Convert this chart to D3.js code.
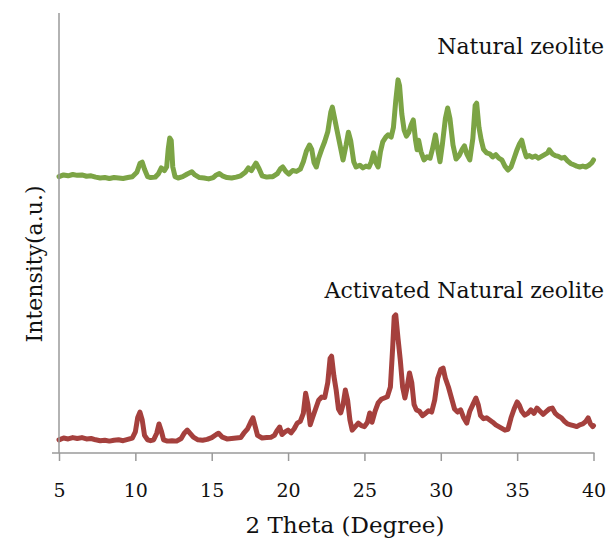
<!DOCTYPE html>
<html>
<head>
<meta charset="utf-8">
<script src="https://cdn.jsdelivr.net/npm/d3@7"></script>
<style>
  html, body { margin: 0; padding: 0; background: #fff; }
  svg { display: block; font-family: "DejaVu Serif", serif; }
</style>
</head>
<body>
<div id="chart"></div>
<script>
// XRD patterns: natural vs activated natural zeolite.
const xTicks = [5, 10, 15, 20, 25, 30, 35, 40];
const seriesNames = ["Natural zeolite", "Activated Natural zeolite"];

// [2theta, intensity a.u.]
const naturalZeolite = [
  [5.0, 38], [5.3, 42], [5.6, 40], [5.9, 43], [6.2, 41], [6.5, 42], [6.8, 39], [7.1, 40],
  [7.4, 37], [7.7, 35], [8.0, 36], [8.3, 34], [8.6, 36], [8.9, 35], [9.2, 34], [9.5, 36],
  [9.8, 38], [10.1, 48], [10.3, 68], [10.45, 71], [10.6, 55], [10.8, 38], [11.0, 36], [11.3, 37],
  [11.5, 44], [11.7, 58], [11.9, 52], [12.05, 60], [12.15, 100], [12.25, 126], [12.35, 120], [12.45, 60],
  [12.6, 38], [12.8, 35], [13.1, 38], [13.4, 44], [13.7, 49], [13.9, 42], [14.2, 36], [14.5, 35],
  [14.8, 33], [15.1, 36], [15.3, 42], [15.5, 45], [15.7, 40], [16.0, 36], [16.3, 35], [16.6, 37],
  [16.9, 40], [17.2, 48], [17.4, 58], [17.6, 52], [17.9, 69], [18.1, 56], [18.3, 40], [18.6, 37],
  [18.8, 38], [19.0, 38], [19.3, 45], [19.5, 56], [19.65, 60], [19.85, 50], [20.05, 44], [20.3, 52],
  [20.55, 50], [20.8, 55], [21.0, 72], [21.2, 96], [21.4, 110], [21.55, 100], [21.7, 70], [21.85, 60],
  [22.0, 80], [22.2, 100], [22.4, 118], [22.6, 140], [22.8, 185], [22.9, 196], [23.05, 170], [23.2, 144],
  [23.4, 110], [23.6, 76], [23.8, 110], [23.95, 139], [24.1, 120], [24.3, 72], [24.45, 60], [24.7, 64],
  [24.9, 58], [25.1, 62], [25.3, 60], [25.45, 72], [25.6, 92], [25.75, 70], [25.9, 60], [26.05, 95],
  [26.2, 117], [26.4, 128], [26.55, 133], [26.75, 128], [26.9, 150], [27.05, 210], [27.2, 258], [27.3, 245],
  [27.45, 180], [27.6, 144], [27.75, 130], [27.9, 138], [28.05, 155], [28.2, 167], [28.35, 120], [28.45, 99],
  [28.55, 121], [28.7, 95], [28.9, 76], [29.1, 83], [29.3, 80], [29.45, 100], [29.65, 133], [29.8, 100],
  [29.95, 72], [30.1, 110], [30.3, 170], [30.45, 194], [30.6, 170], [30.8, 110], [31.0, 78], [31.2, 86],
  [31.4, 100], [31.55, 108], [31.7, 90], [31.9, 76], [32.1, 125], [32.25, 200], [32.35, 205], [32.5, 150],
  [32.65, 121], [32.8, 100], [33.0, 92], [33.2, 90], [33.4, 83], [33.6, 88], [33.8, 80], [34.0, 76],
  [34.2, 62], [34.4, 53], [34.6, 60], [34.8, 80], [35.0, 100], [35.15, 112], [35.3, 121], [35.45, 100],
  [35.6, 83], [35.8, 86], [36.0, 82], [36.2, 85], [36.4, 80], [36.6, 84], [36.8, 88], [37.0, 92],
  [37.1, 99], [37.3, 90], [37.5, 86], [37.7, 84], [37.9, 80], [38.1, 82], [38.3, 74], [38.5, 68],
  [38.7, 65], [38.9, 62], [39.1, 60], [39.3, 62], [39.5, 60], [39.7, 64], [39.9, 70], [40.0, 76]
];

const activatedZeolite = [
  [5.0, 30], [5.3, 34], [5.6, 32], [5.9, 35], [6.2, 33], [6.5, 35], [6.8, 32], [7.1, 33],
  [7.4, 30], [7.7, 28], [8.0, 29], [8.3, 27], [8.6, 29], [8.9, 30], [9.2, 28], [9.5, 31],
  [9.8, 34], [10.0, 48], [10.15, 80], [10.3, 93], [10.45, 75], [10.6, 40], [10.8, 30], [11.0, 28],
  [11.2, 30], [11.4, 45], [11.55, 66], [11.7, 50], [11.85, 30], [12.1, 27], [12.4, 28], [12.7, 27],
  [13.0, 33], [13.2, 45], [13.4, 52], [13.6, 44], [13.8, 36], [14.1, 30], [14.4, 29], [14.7, 31],
  [15.0, 35], [15.3, 42], [15.45, 45], [15.7, 36], [16.0, 32], [16.3, 33], [16.6, 34], [16.9, 35],
  [17.1, 45], [17.35, 55], [17.55, 70], [17.7, 80], [17.85, 60], [18.0, 40], [18.3, 34], [18.6, 35],
  [18.9, 36], [19.1, 40], [19.3, 52], [19.45, 59], [19.6, 42], [19.8, 48], [20.0, 52], [20.2, 46],
  [20.4, 55], [20.6, 68], [20.8, 72], [21.0, 90], [21.15, 136], [21.3, 110], [21.45, 64], [21.6, 80],
  [21.8, 100], [22.0, 120], [22.2, 127], [22.4, 126], [22.6, 160], [22.75, 215], [22.85, 220], [23.0, 175],
  [23.15, 143], [23.3, 100], [23.45, 91], [23.6, 110], [23.75, 143], [23.9, 120], [24.05, 75], [24.2, 52],
  [24.4, 60], [24.6, 68], [24.8, 62], [25.0, 60], [25.2, 70], [25.35, 91], [25.5, 70], [25.7, 95],
  [25.9, 114], [26.1, 122], [26.3, 125], [26.5, 128], [26.7, 150], [26.85, 240], [26.95, 310], [27.05, 314],
  [27.2, 260], [27.35, 211], [27.5, 150], [27.65, 125], [27.8, 150], [27.95, 182], [28.1, 160], [28.25, 110],
  [28.4, 98], [28.6, 95], [28.8, 85], [29.0, 90], [29.2, 96], [29.4, 93], [29.6, 120], [29.8, 170],
  [30.0, 190], [30.15, 193], [30.3, 170], [30.5, 150], [30.7, 125], [30.9, 100], [31.1, 93], [31.3, 98],
  [31.5, 80], [31.7, 68], [31.9, 95], [32.1, 110], [32.3, 125], [32.45, 110], [32.6, 85], [32.8, 78],
  [33.0, 80], [33.2, 75], [33.4, 70], [33.6, 64], [33.8, 60], [34.0, 56], [34.2, 52], [34.4, 54],
  [34.6, 80], [34.8, 100], [35.0, 116], [35.15, 108], [35.3, 95], [35.5, 86], [35.7, 90], [35.9, 98],
  [36.1, 90], [36.3, 102], [36.5, 95], [36.7, 88], [36.9, 94], [37.1, 100], [37.3, 102], [37.5, 90],
  [37.7, 84], [37.9, 80], [38.1, 72], [38.3, 66], [38.5, 64], [38.7, 62], [38.9, 60], [39.1, 64],
  [39.3, 66], [39.5, 72], [39.65, 80], [39.8, 66], [39.95, 60], [40.0, 62]
];

const stackOffset = 590; // vertical shift of the natural pattern

const width = 607, height = 548;
const margin = { top: 13, right: 13, bottom: 95, left: 59 };

const svg = d3.select("#chart").append("svg")
  .attr("width", width).attr("height", height);

const x = d3.scaleLinear().domain([5, 40]).range([margin.left, width - margin.right - 0.5]);
const y = d3.scaleLinear().domain([0, 1000]).range([height - margin.bottom, margin.top]);

const defs = svg.append("defs");
defs.append("filter").attr("id", "soft")
  .append("feGaussianBlur").attr("stdDeviation", 0.55);

const line = d3.line().x(d => x(d[0])).y(d => y(d[1]));

// curves
svg.append("path").datum(activatedZeolite)
  .attr("fill", "none").attr("stroke", "#a5413e").attr("stroke-width", 5)
  .attr("stroke-linejoin", "round").attr("stroke-linecap", "round")
  .attr("filter", "url(#soft)").attr("d", line);

svg.append("path").datum(naturalZeolite.map(d => [d[0], d[1] + stackOffset]))
  .attr("fill", "none").attr("stroke", "#7ba445").attr("stroke-width", 5)
  .attr("stroke-linejoin", "round").attr("stroke-linecap", "round")
  .attr("filter", "url(#soft)").attr("d", line);

// axes
const axisColor = "#9a9a9a";
svg.append("line")
  .attr("x1", x(5)).attr("x2", x(5))
  .attr("y1", y(1000)).attr("y2", y(0))
  .attr("stroke", axisColor).attr("stroke-width", 1.5);
svg.append("line")
  .attr("x1", x(5) - 7).attr("x2", x(40) + 1)
  .attr("y1", y(0)).attr("y2", y(0))
  .attr("stroke", axisColor).attr("stroke-width", 1.5);

const xAxis = svg.append("g").attr("transform", `translate(0,${y(0)})`)
  .call(d3.axisBottom(x).tickValues(xTicks).tickSize(8).tickSizeOuter(0).tickPadding(30));
xAxis.select(".domain").remove();
xAxis.selectAll(".tick line").attr("stroke", axisColor).attr("stroke-width", 1.5);
xAxis.selectAll(".tick text")
  .attr("font-family", "DejaVu Serif").attr("font-size", 19).attr("fill", "#111")
  .attr("dy", "0.32em");

// labels
svg.append("text").attr("x", 604).attr("y", 54).attr("text-anchor", "end")
  .attr("font-size", 22).attr("fill", "#111").text(seriesNames[0]);
svg.append("text").attr("x", 604).attr("y", 298).attr("text-anchor", "end")
  .attr("font-size", 22).attr("fill", "#111").text(seriesNames[1]);

svg.append("text").attr("x", 345).attr("y", 533).attr("text-anchor", "middle")
  .attr("font-size", 23).attr("fill", "#111").text("2 Theta (Degree)");

svg.append("text")
  .attr("transform", "translate(42,264) rotate(-90)")
  .attr("text-anchor", "middle")
  .attr("font-size", 22).attr("fill", "#111").text("Intensity(a.u.)");
</script>
</body>
</html>
